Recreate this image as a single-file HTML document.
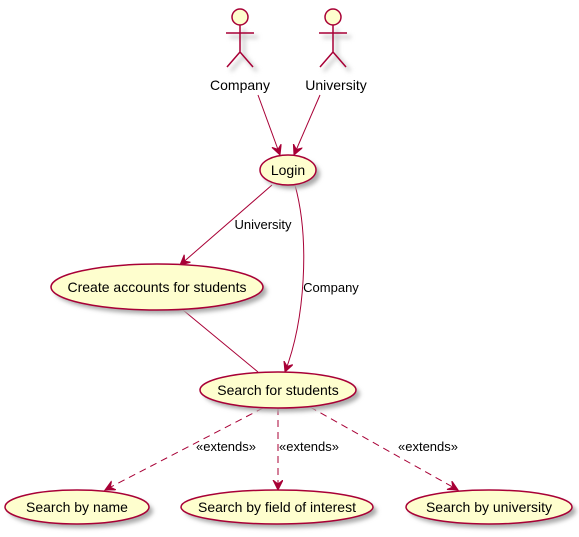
<!DOCTYPE html>
<html><head><meta charset="utf-8"><style>
body{margin:0;background:#fff}
svg{display:block;font-family:"Liberation Sans",sans-serif}
</style></head><body>
<svg width="579" height="537" viewBox="0 0 579 537">
<defs>
<marker id="ah" markerWidth="12" markerHeight="12" refX="10" refY="5" orient="auto" markerUnits="userSpaceOnUse"><path d="M0,0 L10,5 L0,10 L4,5 Z" fill="#A80036" stroke="#A80036"/></marker>
<filter id="sh" x="-20%" y="-20%" width="150%" height="160%"><feGaussianBlur stdDeviation="2"/></filter>
</defs>
<g stroke="#ccc" stroke-width="3" fill="none" filter="url(#sh)">
<path d="M244,29 V56 M230,37 H258 M244,56 L231,71 M244,56 L257,71"/>
<path d="M337,29 V56 M323,37 H351 M337,56 L324,71 M337,56 L350,71"/>
</g>
<g stroke="#A80036" stroke-width="1.5" fill="#FEFECE">
<g>
<circle cx="240" cy="17" r="8"/><path d="M240,25 V52 M226,33 H254 M240,52 L227,67 M240,52 L253,67" fill="none"/>
</g>
<g>
<circle cx="333" cy="17" r="8"/><path d="M333,25 V52 M319,33 H347 M333,52 L320,67 M333,52 L346,67" fill="none"/>
</g>
</g>
<g font-size="14" fill="#000" text-anchor="middle">
<text x="240" y="90">Company</text>
<text x="336" y="90">University</text>
</g>
<g stroke="#A80036" stroke-width="1" fill="none">
<path d="M258,95 L280,155" marker-end="url(#ah)"/>
<path d="M320,95 L294,155" marker-end="url(#ah)"/>
<path d="M272,185 L180,265" marker-end="url(#ah)"/>
<path d="M295,185 C310,240 305,320 285,372" marker-end="url(#ah)"/>
<path d="M183,310 L258,372"/>
<g stroke-dasharray="7,5">
<path d="M263,408 L105,490" marker-end="url(#ah)"/>
<path d="M278,408 L278,490" marker-end="url(#ah)"/>
<path d="M310,407 L458,490" marker-end="url(#ah)"/>
</g>
</g>
<g font-size="13" fill="#000" text-anchor="middle">
<text x="263" y="229">University</text>
<text x="331" y="292">Company</text>
<text x="226" y="451">«extends»</text>
<text x="309" y="451">«extends»</text>
<text x="428" y="451">«extends»</text>
</g>
<g font-size="14" text-anchor="middle">
<g><ellipse cx="292" cy="174" rx="28" ry="15" fill="#aaa" filter="url(#sh)"/><ellipse cx="288" cy="170" rx="28" ry="15" fill="#FEFECE" stroke="#A80036" stroke-width="1.5"/><text x="288" y="175">Login</text></g>
<g><ellipse cx="161" cy="291" rx="106" ry="23" fill="#aaa" filter="url(#sh)"/><ellipse cx="157" cy="287" rx="106" ry="23" fill="#FEFECE" stroke="#A80036" stroke-width="1.5"/><text x="157" y="292">Create accounts for students</text></g>
<g><ellipse cx="282" cy="394" rx="78" ry="18" fill="#aaa" filter="url(#sh)"/><ellipse cx="278" cy="390" rx="78" ry="18" fill="#FEFECE" stroke="#A80036" stroke-width="1.5"/><text x="278" y="395">Search for students</text></g>
<g><ellipse cx="81" cy="511" rx="72" ry="17" fill="#aaa" filter="url(#sh)"/><ellipse cx="77" cy="507" rx="72" ry="17" fill="#FEFECE" stroke="#A80036" stroke-width="1.5"/><text x="77" y="512">Search by name</text></g>
<g><ellipse cx="281" cy="511" rx="96" ry="17" fill="#aaa" filter="url(#sh)"/><ellipse cx="277" cy="507" rx="96" ry="17" fill="#FEFECE" stroke="#A80036" stroke-width="1.5"/><text x="277" y="512">Search by field of interest</text></g>
<g><ellipse cx="493" cy="511" rx="83" ry="17" fill="#aaa" filter="url(#sh)"/><ellipse cx="489" cy="507" rx="83" ry="17" fill="#FEFECE" stroke="#A80036" stroke-width="1.5"/><text x="489" y="512">Search by university</text></g>
</g>
</svg>
</body></html>
